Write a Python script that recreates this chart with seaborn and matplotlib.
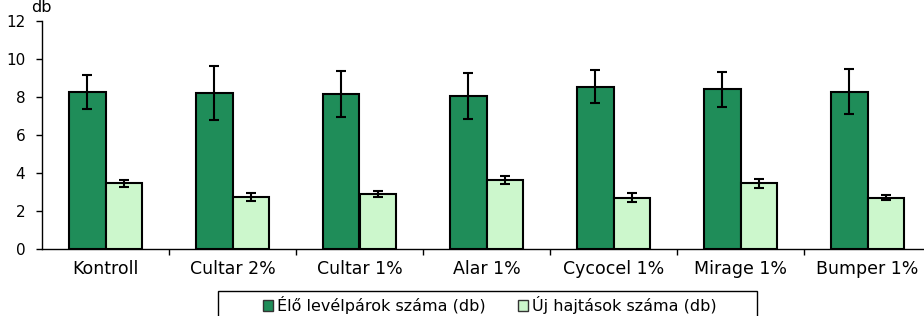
import matplotlib
matplotlib.use("Agg")
import matplotlib.pyplot as plt
from matplotlib.patches import Rectangle
import seaborn as sns
import pandas as pd
import numpy as np

categories = ["Kontroll", "Cultar 2%", "Cultar 1%", "Alar 1%", "Cycocel 1%", "Mirage 1%", "Bumper 1%"]
series_names = ["Élő levélpárok száma (db)", "Új hajtások száma (db)"]
elo_values = [8.27, 8.19, 8.16, 8.05, 8.55, 8.4, 8.28]
elo_err = [0.9, 1.42, 1.23, 1.21, 0.85, 0.92, 1.2]
uj_values = [3.45, 2.74, 2.88, 3.62, 2.7, 3.46, 2.7]
uj_err = [0.19, 0.23, 0.16, 0.2, 0.23, 0.25, 0.14]
y_ticks = [0, 2, 4, 6, 8, 10, 12]

sns.set_theme(style="white")
plt.rcParams["font.family"] = ["DejaVu Sans"]
plt.rcParams["text.color"] = "black"
plt.rcParams["xtick.color"] = "black"
plt.rcParams["ytick.color"] = "black"

df = pd.DataFrame({
    "cat": categories * 2,
    "series": [series_names[0]] * len(categories) + [series_names[1]] * len(categories),
    "val": elo_values + uj_values,
})
errs = elo_err + uj_err

fig = plt.figure(figsize=(9.24, 3.16), dpi=100)
ax = fig.add_axes([42 / 924, 67 / 316, 889 / 924, 228 / 316])

palette = ["#1f8d59", "#ccf7cc"]
sns.barplot(data=df, x="cat", y="val", hue="series", order=categories,
            hue_order=series_names, palette=palette, width=0.58,
            edgecolor="black", linewidth=1.5, saturation=1, errorbar=None, ax=ax)

for i, p in enumerate(ax.patches[:2 * len(categories)]):
    xc = p.get_x() + p.get_width() / 2
    ax.errorbar(xc, p.get_height(), yerr=errs[i], color="black", lw=1.5,
                capsize=3.3, capthick=1.5, fmt="none", zorder=5)

ax.set_xlim(-0.5, len(categories) - 0.5)
ax.set_ylim(0, 12)
ax.set_yticks(y_ticks)
ax.set_yticklabels([str(t) for t in y_ticks], fontsize=11, color="black")
ax.set_xticks(range(len(categories)))
ax.set_xticklabels(categories, fontsize=12.5, color="black")
ax.set_xticks(np.arange(0.5, len(categories) - 0.5, 1), minor=True)
ax.tick_params(axis="x", which="major", length=0, pad=8)
ax.tick_params(axis="x", which="minor", length=4, width=1, direction="out", bottom=True, color="black")
ax.tick_params(axis="y", length=4, width=1, direction="out", left=True, pad=8, color="black")
ax.set_xlabel("")
ax.set_ylabel("")
for s in ["top", "right"]:
    ax.spines[s].set_visible(False)
for s in ["left", "bottom"]:
    ax.spines[s].set_color("black")
    ax.spines[s].set_linewidth(1)

fig.text(31 / 924, 1 - 7 / 316, "db", fontsize=11.5, ha="left", va="center", color="black")

handles, labels = ax.get_legend_handles_labels()
ax.get_legend().remove()
for h in handles:
    h.set_edgecolor("#333333")
    h.set_linewidth(1)
leg = fig.legend(handles, labels, loc="upper center", bbox_to_anchor=(490 / 924, 1 - 293 / 316),
                 ncol=2, fontsize=11.5, frameon=False,
                 handlelength=0.6, handleheight=0.6, handletextpad=0.3, columnspacing=2.0,
                 borderpad=0.2, borderaxespad=0)
for t in leg.get_texts():
    t.set_color("black")
fig.add_artist(Rectangle((218 / 924, -0.05), (757 - 218) / 924, 0.05 + 1 - 291 / 316,
                         transform=fig.transFigure, fill=False, edgecolor="black", lw=1))

fig.savefig("out.png", dpi=100)
